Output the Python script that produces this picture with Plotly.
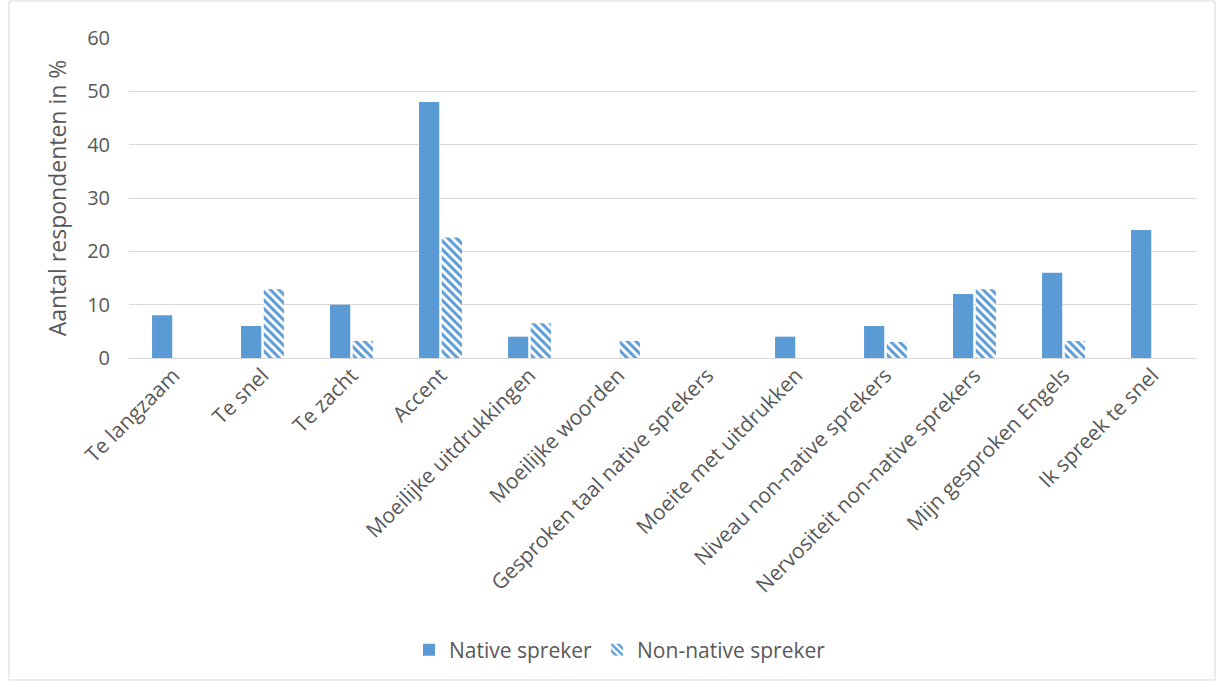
import plotly.graph_objects as go

categories = [
    "Te langzaam", "Te snel", "Te zacht", "Accent", "Moeilijke uitdrukkingen",
    "Moeilijke woorden", "Gesproken taal native sprekers", "Moeite met uitdrukken",
    "Niveau non-native sprekers", "Nervositeit non-native sprekers",
    "Mijn gesproken Engels", "Ik spreek te snel",
]
native = [8, 6, 10, 48, 4, 0, 0, 4, 6, 12, 16, 24]
non_native = [0, 12.9, 3.2, 22.6, 6.5, 3.2, 0, 0, 3.0, 12.9, 3.2, 0]

BLUE = "#5B9BD5"
TXT = "#595959"
FONT = "'Open Sans', sans-serif"

fig = go.Figure()
fig.add_trace(go.Bar(
    x=categories, y=native, name="Native spreker",
    marker=dict(color=BLUE, line=dict(width=0)),
))
fig.add_trace(go.Bar(
    x=categories, y=non_native, name="Non-native spreker",
    marker=dict(color="white", line=dict(width=0),
                pattern=dict(shape="\\", fgcolor=BLUE, bgcolor="white",
                             fgopacity=1, size=6, solidity=0.5,
                             fillmode="overlay")),
))

W, H = 1219, 682
L, R, T, B = 129, 22, 38, 324
pw, ph = W - L - R, H - T - B

def px(x):
    return (x - L) / pw

def py(y):
    return (H - B - y) / ph

fig.add_shape(type="rect", xref="paper", yref="paper",
              x0=px(9), x1=px(1215), y0=py(680), y1=py(1),
              line=dict(color="#D9D9D9", width=1), fillcolor="rgba(0,0,0,0)")

fig.update_layout(
    width=W, height=H,
    margin=dict(l=L, r=R, t=T, b=B),
    paper_bgcolor="white", plot_bgcolor="white",
    font=dict(family=FONT, color=TXT),
    barmode="group", bargap=0.49, bargroupgap=0.11,
    showlegend=True,
    legend=dict(orientation="h", x=px(620), xanchor="center",
                y=py(650), yanchor="middle", font=dict(size=21, color=TXT),
                itemwidth=30, traceorder="normal"),
    xaxis=dict(tickangle=-45, tickfont=dict(size=21, color=TXT),
               showgrid=False, showline=False, ticks=""),
    yaxis=dict(range=[0, 60], dtick=10, tickfont=dict(size=20, color=TXT),
               gridcolor="#D9D9D9", gridwidth=1, zeroline=True,
               zerolinecolor="#D9D9D9", zerolinewidth=1, showline=False,
               ticks="", ticklabelstandoff=18,
               title=dict(text="Aantal respondenten in %",
                          font=dict(size=23, color=TXT), standoff=14)),
)

fig.write_html("out.html")
